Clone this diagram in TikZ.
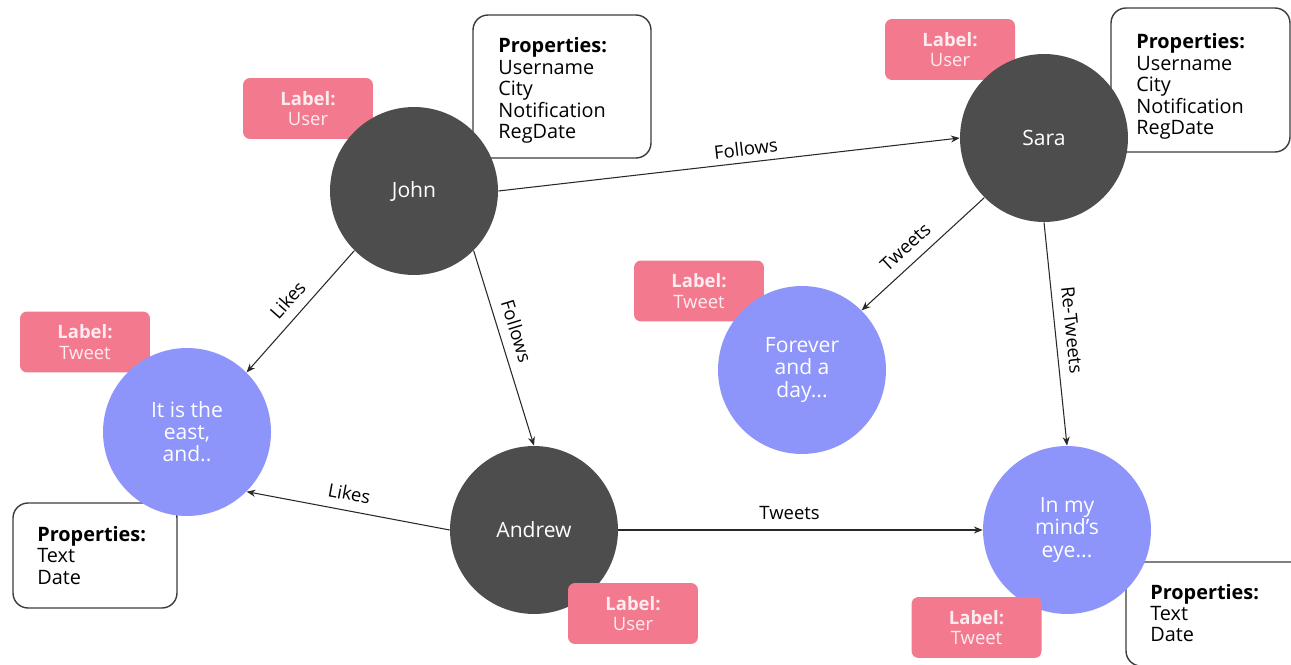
\documentclass[tikz,border=0pt]{standalone}
\usepackage{fontspec}
\setmainfont{Open Sans}
\usetikzlibrary{arrows.meta}
\definecolor{usergray}{RGB}{77,77,77}
\definecolor{tweetblue}{RGB}{141,148,250}
\definecolor{labelpink}{RGB}{243,122,142}
\definecolor{edgegray}{RGB}{40,40,40}
\definecolor{boxline}{RGB}{60,60,60}
\definecolor{tagtext}{RGB}{255,236,240}

\begin{document}
\begin{tikzpicture}[x=0.02cm,y=-0.02cm,
  user/.style={circle, fill=usergray, minimum size=3.36cm, inner sep=0pt,
    text=white, align=center, font=\fontsize{12}{12.6}\selectfont},
  tweet/.style={circle, fill=tweetblue, minimum size=3.36cm, inner sep=0pt,
    text=white, align=center, font=\fontsize{12}{12.6}\selectfont},
  tag/.style={rounded corners=0.14cm, fill=labelpink, minimum width=2.6cm,
    minimum height=1.22cm, inner sep=0pt, text=tagtext, align=center,
    font=\fontsize{10.5}{11.6}\selectfont},
  propbox/.style={draw=boxline, line width=0.8pt, rounded corners=0.3cm,
    fill=white, inner sep=0pt},
  proptext/.style={anchor=base west, inner sep=0pt, text width=3cm,
    align=left, font=\fontsize{11.3}{12.2}\selectfont},
  rel/.style={draw=edgegray, line width=0.6pt,
    -{Stealth[length=5pt,width=4pt]}},
  rellabel/.style={sloped, above, text=black, inner sep=5.5pt,
    font=\fontsize{10.5}{12}\selectfont}
]
\useasboundingbox (0,0) rectangle (1291,665);
\clip (0,0) rectangle (1291,665);

% property boxes and their lists
\node[propbox, minimum width=3.56cm, minimum height=2.86cm] (johnprops) at (562,86.5) {};
\node[proptext] (johnpropstext) at (498,53)
  {\textbf{Properties:}\\Username\\City\\Notification\\RegDate};
\node[propbox, minimum width=3.58cm, minimum height=2.88cm] (saraprops) at (1200.5,80) {};
\node[proptext] (sarapropstext) at (1136,49)
  {\textbf{Properties:}\\Username\\City\\Notification\\RegDate};
\node[propbox, minimum width=3.28cm, minimum height=2.1cm] (eastprops) at (95,555.5) {};
\node[proptext] (eastpropstext) at (37,541.5) {\textbf{Properties:}\\Text\\Date};
\node[propbox, minimum width=3.6cm, minimum height=2.08cm] (mindprops) at (1216,614) {};
\node[proptext] (mindpropstext) at (1150,599) {\textbf{Properties:}\\Text\\Date};

% labels lying under their circles
\node[tag] (johntag) at (308,108.5) {\textbf{Label:}\\User};
\node[tag] (saratag) at (950,49.5) {\textbf{Label:}\\User};
\node[tag] (easttag) at (85,342) {\textbf{Label:}\\Tweet};
\node[tag] (forevertag) at (699,291) {\textbf{Label:}\\Tweet};

% graph nodes
\node[user] (john) at (414,191) {John};
\node[user] (sara) at (1044,138) {Sara};
\node[user] (andrew) at (534,530) {Andrew};
\node[tweet] (east) at (187,432) {It is the\\east,\\and..};
\node[tweet] (forever) at (802,370) {Forever\\and a\\day...};
\node[tweet] (mind) at (1067,530) {In my\\mind's\\eye...};

% labels lying over their circles
\node[tag] (andrewtag) at (633,613.5) {\textbf{Label:}\\User};
\node[tag] (mindtag) at (976.5,627.5) {\textbf{Label:}\\Tweet};

% relationships
\draw[rel] (john.east) -- node[rellabel, pos=0.54, inner sep=3.5pt] {Follows} (sara.west);
\draw[rel] (john.south east) -- node[rellabel, pos=0.44] {Follows} (andrew.north);
\draw[rel] (john.south west) -- node[rellabel, pos=0.5] {Likes} (east.north east);
\draw[rel] (andrew.west) -- node[rellabel, pos=0.51] {Likes} (east.south east);
\draw[rel] (andrew.east) -- node[rellabel, pos=0.47] {Tweets} (mind.west);
\draw[rel] (sara.south west) -- node[rellabel, pos=0.55] {Tweets} (forever.north east);
\draw[rel] (sara.south) -- node[rellabel, pos=0.49] {Re-Tweets} (mind.north);
\end{tikzpicture}
\end{document}
